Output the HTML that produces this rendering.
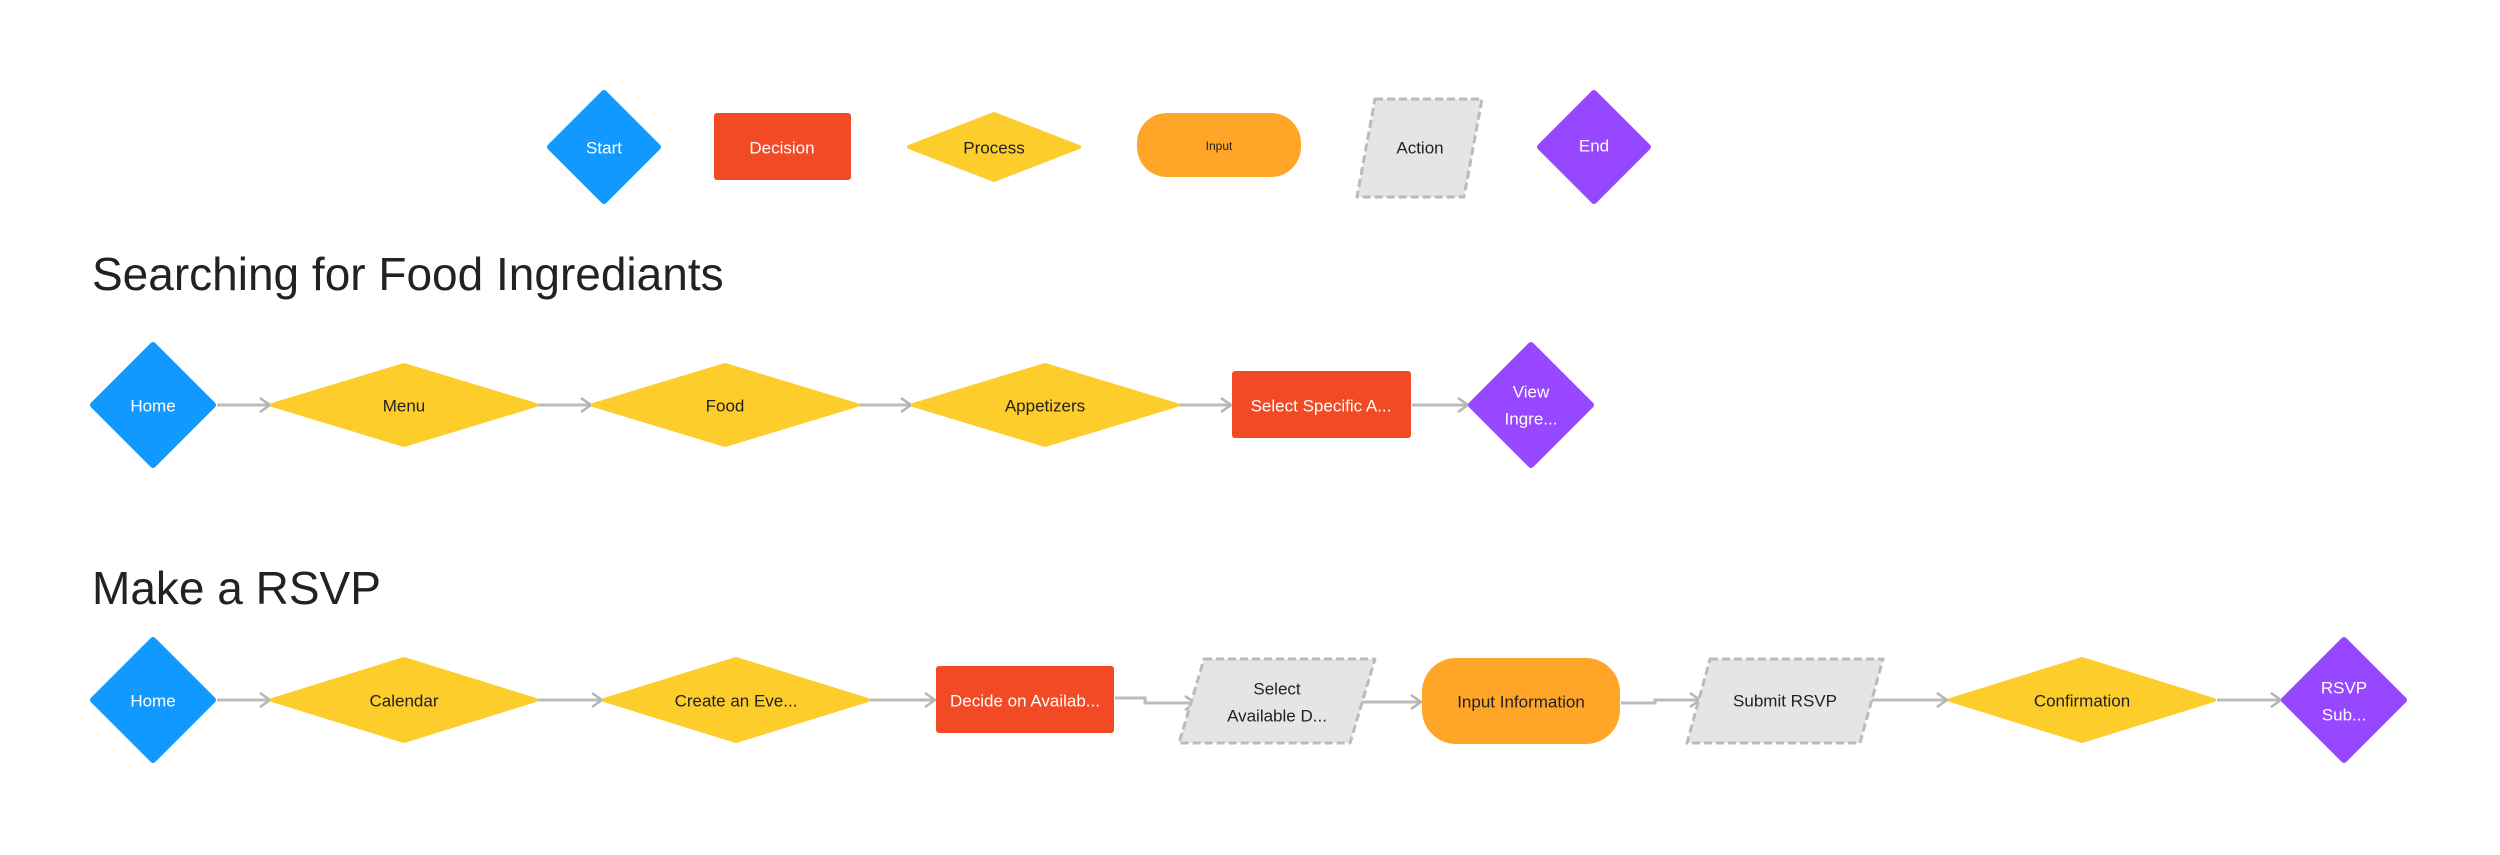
<!DOCTYPE html>
<html><head><meta charset="utf-8"><style>
html,body{margin:0;padding:0;background:#fff;}
svg{display:block;}
text{font-family:"Liberation Sans",sans-serif;}
</style></head><body>
<svg width="2500" height="855" viewBox="0 0 2500 855" xmlns="http://www.w3.org/2000/svg">
<defs>
<marker id="a" markerWidth="14" markerHeight="16" refX="12" refY="8" orient="auto" markerUnits="userSpaceOnUse">
<path d="M2 1 L12 8 L2 15" fill="none" stroke="#b5b5b5" stroke-width="2.5"/>
</marker>
</defs>
<g font-size="17" text-anchor="middle" dominant-baseline="central">
<path d="M604 93 L658 147 L604 201 L550 147 Z" fill="#1199ff" stroke="#1199ff" stroke-width="6" stroke-linejoin="round"/>
<text x="604" y="148" fill="#fff">Start</text>
<rect x="714" y="113" width="137" height="67" rx="3" fill="#f24a24"/>
<text x="782" y="148" fill="#fff">Decision</text>
<path d="M994 114 L1079 147 L994 180 L909 147 Z" fill="#fdcd2c" stroke="#fdcd2c" stroke-width="4" stroke-linejoin="round"/>
<text x="994" y="148" fill="#222">Process</text>
<rect x="1137" y="113" width="164" height="64" rx="30" fill="#ffa629"/>
<text x="1219" y="146" fill="#222" font-size="12">Input</text>
<path d="M1375 99 L1482 99 L1464 197 L1357 197 Z" fill="#e5e5e5" stroke="#bbb" stroke-width="3" stroke-dasharray="8 4" stroke-linejoin="round"/>
<text x="1420" y="148" fill="#222">Action</text>
<path d="M1594 93 L1648 147 L1594 201 L1540 147 Z" fill="#9747ff" stroke="#9747ff" stroke-width="6" stroke-linejoin="round"/>
<text x="1594" y="146" fill="#fff">End</text>

<text x="92" y="274" font-size="46" text-anchor="start" fill="#222">Searching for Food Ingrediants</text>

<g stroke="#bbb" stroke-width="3" fill="none" marker-end="url(#a)">
<line x1="217" y1="405" x2="270" y2="405"/>
<line x1="538" y1="405" x2="591" y2="405"/>
<line x1="859" y1="405" x2="911" y2="405"/>
<line x1="1179" y1="405" x2="1231" y2="405"/>
<line x1="1412" y1="405" x2="1468" y2="405"/>
</g>
<path d="M153 345 L213 405 L153 465 L93 405 Z" fill="#1199ff" stroke="#1199ff" stroke-width="6" stroke-linejoin="round"/>
<text x="153" y="406" fill="#fff">Home</text>
<path d="M404 365 L536 405 L404 445 L272 405 Z" fill="#fdcd2c" stroke="#fdcd2c" stroke-width="4" stroke-linejoin="round"/>
<text x="404" y="406" fill="#222">Menu</text>
<path d="M725 365 L857 405 L725 445 L593 405 Z" fill="#fdcd2c" stroke="#fdcd2c" stroke-width="4" stroke-linejoin="round"/>
<text x="725" y="406" fill="#222">Food</text>
<path d="M1045 365 L1177 405 L1045 445 L913 405 Z" fill="#fdcd2c" stroke="#fdcd2c" stroke-width="4" stroke-linejoin="round"/>
<text x="1045" y="406" fill="#222">Appetizers</text>
<rect x="1232" y="371" width="179" height="67" rx="3" fill="#f24a24"/>
<text x="1321" y="406" fill="#fff">Select Specific A...</text>
<path d="M1531 345 L1591 405 L1531 465 L1471 405 Z" fill="#9747ff" stroke="#9747ff" stroke-width="6" stroke-linejoin="round"/>
<text x="1531" y="392" fill="#fff">View</text>
<text x="1531" y="419" fill="#fff">Ingre...</text>

<text x="92" y="588" font-size="46" text-anchor="start" fill="#222">Make a RSVP</text>

<g stroke="#bbb" stroke-width="3" fill="none" marker-end="url(#a)">
<line x1="217" y1="700" x2="270" y2="700"/>
<line x1="538" y1="700" x2="602" y2="700"/>
<line x1="870" y1="700" x2="935" y2="700"/>
<path d="M1115 698 L1145 698 L1145 703 L1195 703"/>
<line x1="1360" y1="702" x2="1421" y2="702"/>
<path d="M1621 703 L1655 703 L1655 700 L1700 700"/>
<line x1="1870" y1="700" x2="1947" y2="700"/>
<line x1="2217" y1="700" x2="2281" y2="700"/>
</g>
<path d="M153 640 L213 700 L153 760 L93 700 Z" fill="#1199ff" stroke="#1199ff" stroke-width="6" stroke-linejoin="round"/>
<text x="153" y="701" fill="#fff">Home</text>
<path d="M404 659 L536 700 L404 741 L272 700 Z" fill="#fdcd2c" stroke="#fdcd2c" stroke-width="4" stroke-linejoin="round"/>
<text x="404" y="701" fill="#222">Calendar</text>
<path d="M736 659 L868 700 L736 741 L604 700 Z" fill="#fdcd2c" stroke="#fdcd2c" stroke-width="4" stroke-linejoin="round"/>
<text x="736" y="701" fill="#222">Create an Eve...</text>
<rect x="936" y="666" width="178" height="67" rx="3" fill="#f24a24"/>
<text x="1025" y="701" fill="#fff">Decide on Availab...</text>
<path d="M1204 659 L1375 659 L1350 743 L1179 743 Z" fill="#e5e5e5" stroke="#bbb" stroke-width="3" stroke-dasharray="8 4" stroke-linejoin="round"/>
<text x="1277" y="689" fill="#222">Select</text>
<text x="1277" y="716" fill="#222">Available D...</text>
<rect x="1422" y="658" width="198" height="86" rx="34" fill="#ffa629"/>
<text x="1521" y="702" fill="#222">Input Information</text>
<path d="M1710 659 L1883 659 L1860 743 L1687 743 Z" fill="#e5e5e5" stroke="#bbb" stroke-width="3" stroke-dasharray="8 4" stroke-linejoin="round"/>
<text x="1785" y="701" fill="#222">Submit RSVP</text>
<path d="M2082 659 L2214 700 L2082 741 L1950 700 Z" fill="#fdcd2c" stroke="#fdcd2c" stroke-width="4" stroke-linejoin="round"/>
<text x="2082" y="701" fill="#222">Confirmation</text>
<path d="M2344 640 L2404 700 L2344 760 L2284 700 Z" fill="#9747ff" stroke="#9747ff" stroke-width="6" stroke-linejoin="round"/>
<text x="2344" y="688" fill="#fff">RSVP</text>
<text x="2344" y="715" fill="#fff">Sub...</text>
</g>
</svg>
</body></html>
